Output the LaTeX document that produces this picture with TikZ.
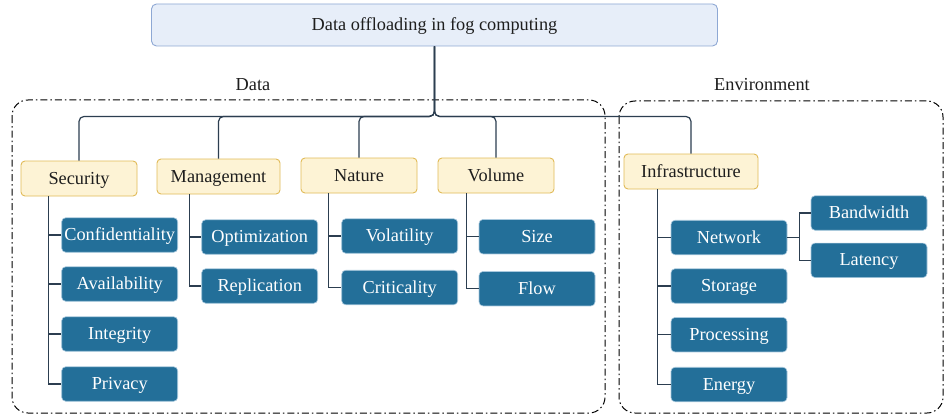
\documentclass[tikz,border=0pt]{standalone}
\usepackage{fontspec}
\setmainfont{Liberation Serif}
\usetikzlibrary{calc}
\definecolor{titlefill}{HTML}{E7EEF9}
\definecolor{titledraw}{HTML}{8EA8D4}
\definecolor{yfill}{HTML}{FDF3D5}
\definecolor{ydraw}{HTML}{E1BB58}
\definecolor{bfill}{HTML}{236F99}
\definecolor{bdraw}{HTML}{A9C9DE}
\definecolor{lineclr}{HTML}{2C3E50}
\definecolor{txt}{HTML}{1E1E1E}
\begin{document}
\begin{tikzpicture}[x=1pt,y=-1pt,
  every node/.style={font=\fontsize{18.3}{21}\selectfont, inner sep=0pt, text=txt},
  titlebox/.style={draw=titledraw, fill=titlefill, rounded corners=5pt, line width=0.9pt,
    minimum width=566pt, minimum height=42pt, text height=15pt, text depth=3.5pt},
  catbox/.style={draw=ydraw, fill=yfill, rounded corners=4pt, line width=0.9pt,
    minimum height=35pt, text height=14.5pt, text depth=3.5pt},
  leafbox/.style={draw=bdraw, fill=bfill, text=white, rounded corners=4pt, line width=0.6pt,
    minimum width=116pt, minimum height=34.5pt, text height=14.5pt, text depth=3.5pt},
  conn/.style={draw=lineclr, line width=1.2pt},
  stub/.style={draw=lineclr, line width=1.1pt},
  groupbox/.style={draw=black, line width=1pt, dash pattern=on 7pt off 3pt on 1.5pt off 3pt, rounded corners=16pt}
]
\fill[white] (0,0) rectangle (944,417);
\useasboundingbox (0,0) rectangle (944,417);

% group frames
\draw[groupbox] (12,100) rectangle (605,413);
\draw[groupbox] (619,101) rectangle (943,413);
\node (datalabel) at (253,85) {Data};
\node (envlabel) at (762,85) {Environment};

% root
\node[titlebox] (title) at (434.5,25) {Data offloading in fog computing};

% categories
\node[catbox, minimum width=116pt] (sec) at (79,178.5) {Security};
\node[catbox, minimum width=123pt] (man) at (218.5,176.5) {Management};
\node[catbox, minimum width=116pt] (nat) at (359,175.5) {Nature};
\node[catbox, minimum width=116pt] (vol) at (496,175.5) {Volume};
\node[catbox, minimum width=134pt] (inf) at (691,171.5) {Infrastructure};

% leaves
\node[leafbox] (conf) at (119.7,235) {Confidentiality};
\node[leafbox] (avail) at (119.7,284) {Availability};
\node[leafbox] (integ) at (119.7,334) {Integrity};
\node[leafbox] (priv) at (119.7,384) {Privacy};
\node[leafbox] (opt) at (259.7,237) {Optimization};
\node[leafbox] (repl) at (259.7,286) {Replication};
\node[leafbox] (vola) at (399.7,236) {Volatility};
\node[leafbox] (crit) at (399.7,287.5) {Criticality};
\node[leafbox] (size) at (537,236.7) {Size};
\node[leafbox] (flow) at (537,288.7) {Flow};
\node[leafbox] (net) at (729,237.5) {Network};
\node[leafbox] (stor) at (729,286) {Storage};
\node[leafbox] (proc) at (729,334.7) {Processing};
\node[leafbox] (ener) at (729,384.5) {Energy};
\node[leafbox] (bw) at (869,213) {Bandwidth};
\node[leafbox] (lat) at (869,260.3) {Latency};

% root connectors
\coordinate (j) at ($(title.south)+(0,70)$);
\foreach \c in {sec,man,nat,vol,inf}{
  \draw[conn, rounded corners=5pt] (title.south) -- (j) -| (\c.north);
}

% spines
\foreach \c in {conf,avail,integ,priv}{\draw[stub] ($(sec.south west)+(28,0)$) |- (\c.west);}
\foreach \c in {opt,repl}{\draw[stub] ($(man.south west)+(33,0)$) |- (\c.west);}
\foreach \c in {vola,crit}{\draw[stub] ($(nat.south west)+(28,0)$) |- (\c.west);}
\foreach \c in {size,flow}{\draw[stub] ($(vol.south west)+(29,0)$) |- (\c.west);}
\foreach \c in {net,stor,proc,ener}{\draw[stub] ($(inf.south west)+(34,0)$) |- (\c.west);}
\coordinate (nj) at ($(net.east)+(12,0)$);
\foreach \c in {bw,lat}{\draw[stub] (net.east) -- (nj) |- (\c.west);}
\end{tikzpicture}
\end{document}
